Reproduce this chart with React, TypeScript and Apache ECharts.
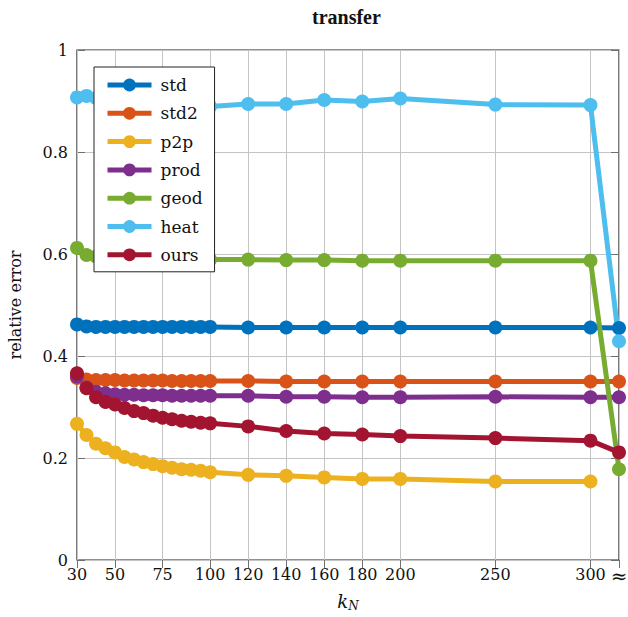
import React, { useEffect, useRef } from "react";
import * as echarts from "echarts";

const kValues = [30, 35, 40, 45, 50, 55, 60, 65, 70, 75, 80, 85, 90, 95, 100, 120, 140, 160, 180, 200, 250, 300, 315];
const xTickValues = [30, 50, 75, 100, 120, 140, 160, 180, 200, 250, 300, 315];
const approxValue = 315;

const stdVals = [0.462, 0.458, 0.457, 0.457, 0.457, 0.457, 0.457, 0.457, 0.457, 0.457, 0.457, 0.457, 0.457, 0.457, 0.457, 0.456, 0.456, 0.456, 0.456, 0.456, 0.456, 0.456, 0.455];
const std2Vals = [0.357, 0.354, 0.353, 0.353, 0.353, 0.352, 0.352, 0.352, 0.352, 0.352, 0.351, 0.351, 0.351, 0.351, 0.351, 0.351, 0.350, 0.350, 0.350, 0.350, 0.350, 0.350, 0.350];
const p2pVals = [0.267, 0.245, 0.228, 0.219, 0.211, 0.202, 0.197, 0.192, 0.188, 0.184, 0.181, 0.178, 0.177, 0.175, 0.172, 0.167, 0.165, 0.162, 0.159, 0.159, 0.154, 0.154, null];
const prodVals = [0.360, 0.338, 0.330, 0.327, 0.325, 0.324, 0.324, 0.323, 0.323, 0.323, 0.322, 0.322, 0.322, 0.322, 0.322, 0.322, 0.320, 0.320, 0.319, 0.319, 0.320, 0.319, 0.319];
const geodVals = [0.612, 0.598, 0.595, 0.593, 0.592, 0.591, 0.591, 0.590, 0.590, 0.590, 0.590, 0.589, 0.589, 0.589, 0.589, 0.589, 0.588, 0.588, 0.587, 0.587, 0.587, 0.587, 0.178];
const heatVals = [0.907, 0.910, 0.906, 0.903, 0.900, 0.899, 0.897, 0.895, 0.894, 0.893, 0.892, 0.891, 0.890, 0.890, 0.889, 0.894, 0.894, 0.902, 0.899, 0.905, 0.893, 0.892, 0.429];
const oursVals = [0.366, 0.337, 0.319, 0.310, 0.305, 0.298, 0.292, 0.288, 0.283, 0.279, 0.276, 0.273, 0.271, 0.269, 0.268, 0.262, 0.253, 0.248, 0.246, 0.243, 0.239, 0.234, 0.211];

const seriesNames = ["std", "std2", "p2p", "prod", "geod", "heat", "ours"];
const seriesColors = ["#0072BD", "#D95319", "#EDB120", "#7E2F8E", "#77AC30", "#4DBEEE", "#A2142F"];
const seriesValues = [stdVals, std2Vals, p2pVals, prodVals, geodVals, heatVals, oursVals];

const FONT = "DejaVu Serif";
const TITLE_FONT = "Liberation Serif";

export default function App() {
  const ref = useRef<HTMLDivElement>(null);
  useEffect(() => {
    if (!ref.current) return;
    const chart = echarts.init(ref.current, null, { renderer: "svg" });
    const series: any[] = seriesNames.map((name, si) => ({
      name,
      type: "line",
      symbol: "circle",
      symbolSize: 14,
      showSymbol: true,
      color: seriesColors[si],
      lineStyle: { width: 5, color: seriesColors[si] },
      itemStyle: { color: seriesColors[si] },
      data: kValues
        .map((k, i) => [k, seriesValues[si][i]])
        .filter((d) => d[1] !== null && d[1] !== undefined),
      z: 3,
    }));
    series[0].markLine = {
      silent: true,
      symbol: ["none", "none"],
      z: 1,
      label: { show: false },
      lineStyle: { color: "#c4c4c4", width: 1, type: "solid" },
      data: xTickValues.map((v) => ({ xAxis: v })),
    };
    const tickCommon = {
      inside: true,
      length: 8,
      lineStyle: { color: "#707070", width: 1 },
    };
    chart.setOption({
      animation: false,
      backgroundColor: "#ffffff",
      textStyle: { fontFamily: FONT },
      title: {
        text: "transfer",
        left: 312,
        top: 7,
        padding: 0,
        textStyle: { fontFamily: TITLE_FONT, fontSize: 20, fontWeight: "bold", color: "#111" },
      },
      grid: {
        left: 77,
        top: 50,
        right: 9,
        bottom: 57,
        outerBoundsMode: "none",
        containLabel: false,
        show: true,
        borderColor: "#222222",
        borderWidth: 1.2,
        backgroundColor: "transparent",
      },
      legend: {
        orient: "vertical",
        left: 94,
        top: 67,
        backgroundColor: "#ffffff",
        borderColor: "#222222",
        borderWidth: 1,
        borderRadius: 0,
        padding: [8, 12, 7, 11],
        itemWidth: 44,
        itemHeight: 16,
        itemGap: 8.3,
        lineStyle: { width: 5 },
        data: seriesNames,
        textStyle: { fontFamily: FONT, fontSize: 17, color: "#111", lineHeight: 20, padding: [0, 0, 0, 4] },
      },
      xAxis: [
        {
          type: "value",
          min: 30,
          max: 315,
          position: "bottom",
          axisLine: { show: false },
          splitLine: { show: false },
          axisTick: { ...tickCommon, customValues: xTickValues },
          axisLabel: {
            customValues: xTickValues,
            formatter: (v: number) => (v === approxValue ? "{ap|≈}" : String(v)),
            fontFamily: FONT,
            fontSize: 16,
            color: "#111",
            margin: 6,
            hideOverlap: false,
            rich: {
              ap: { fontFamily: FONT, fontSize: 20, color: "#111" },
            },
          },
          name: "{k|k}{n|N}",
          nameLocation: "middle",
          nameGap: 30,
          nameTextStyle: {
            fontFamily: FONT,
            rich: {
              k: { fontFamily: FONT, fontSize: 18, fontStyle: "italic", color: "#111" },
              n: { fontFamily: FONT, fontSize: 12, fontStyle: "italic", color: "#111", padding: [10, 0, 0, 0] },
            },
          },
        },
        {
          type: "value",
          min: 30,
          max: 315,
          position: "top",
          axisLine: { show: false },
          splitLine: { show: false },
          axisTick: { ...tickCommon, customValues: xTickValues },
          axisLabel: { show: false, customValues: xTickValues },
        },
      ],
      yAxis: [
        {
          type: "value",
          min: 0,
          max: 1,
          interval: 0.2,
          position: "left",
          axisLine: { show: false },
          axisTick: tickCommon,
          splitLine: { show: true, lineStyle: { color: "#c4c4c4", width: 1 } },
          axisLabel: { fontFamily: FONT, fontSize: 16, color: "#111", margin: 9 },
          name: "relative error",
          nameLocation: "middle",
          nameGap: 54,
          nameTextStyle: { fontFamily: FONT, fontSize: 16, color: "#111" },
        },
        {
          type: "value",
          min: 0,
          max: 1,
          interval: 0.2,
          position: "right",
          axisLine: { show: false },
          axisTick: tickCommon,
          splitLine: { show: false },
          axisLabel: { show: false },
        },
      ],
      series,
    });
    return () => chart.dispose();
  }, []);
  return (
    <div
      ref={ref}
      style={{ position: "fixed", left: 0, top: 0, width: 628, height: 617 }}
    />
  );
}
